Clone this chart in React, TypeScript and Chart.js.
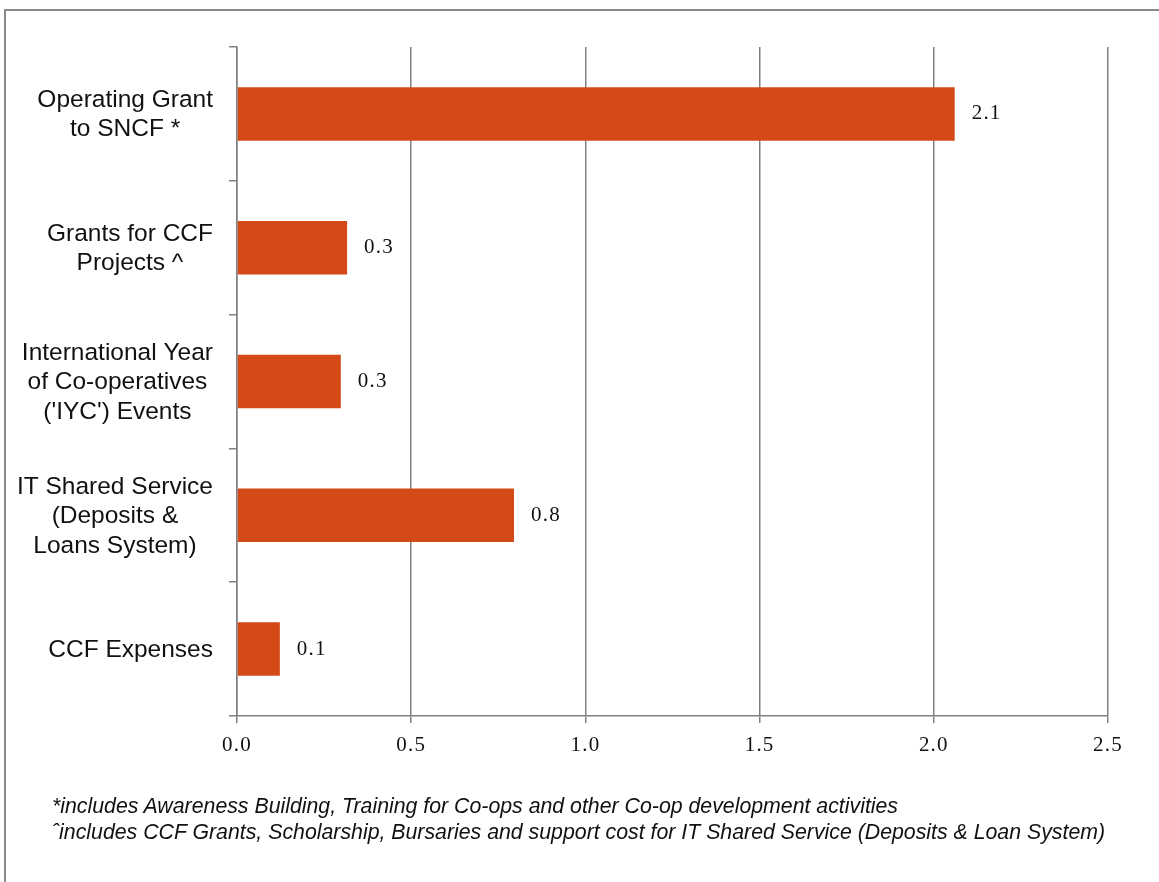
import React, { useEffect, useRef } from "react";
import { Chart, registerables } from "chart.js";

Chart.register(...registerables);

const categories: string[][] = [
  ["Operating Grant", "to SNCF *"],
  ["Grants for CCF", "Projects ^"],
  ["International Year", "of Co-operatives", "('IYC') Events"],
  ["IT Shared Service", "(Deposits &", "Loans System)"],
  ["CCF Expenses"],
];
const values: number[] = [2.06, 0.316, 0.298, 0.795, 0.123];
const xTicks: number[] = [0, 0.5, 1.0, 1.5, 2.0, 2.5];
const footnotes: string[] = [
  "*includes Awareness Building, Training for Co-ops and other Co-op development activities",
  "\u02c6includes CCF Grants, Scholarship, Bursaries and support cost for IT Shared Service (Deposits & Loan System)",
];

const BAR = "#D34A18";
const GRID = "#808080";
const SERIF = "'Liberation Serif', 'DejaVu Serif', serif";
const SANS = "'Liberation Sans', Arial, sans-serif";

const spacing = {
  id: "spacing",
  beforeDraw(chart: any) {
    (chart.ctx as any).letterSpacing = "1.2px";
  },
};

const valueLabels = {
  id: "valueLabels",
  afterDatasetsDraw(chart: any) {
    const ctx = chart.ctx;
    const meta = chart.getDatasetMeta(0);
    ctx.save();
    (ctx as any).letterSpacing = "1.2px";
    ctx.font = `21px ${SERIF}`;
    ctx.fillStyle = "#111";
    ctx.textAlign = "left";
    ctx.textBaseline = "middle";
    meta.data.forEach((el: any, i: number) => {
      ctx.fillText(values[i].toFixed(1), el.x + 17, el.y);
    });
    ctx.restore();
  },
};

const categoryLabels = {
  id: "categoryLabels",
  afterDraw(chart: any) {
    const ctx = chart.ctx;
    const y = chart.scales.y;
    const right = chart.chartArea.left - 24;
    const lh = 29.5;
    ctx.save();
    (ctx as any).letterSpacing = "0px";
    ctx.font = `24.5px ${SANS}`;
    ctx.fillStyle = "#111";
    ctx.textAlign = "center";
    ctx.textBaseline = "middle";
    categories.forEach((lines, i) => {
      const widest = Math.max(...lines.map((l) => ctx.measureText(l).width));
      const cx = right - widest / 2;
      const cy = y.getPixelForTick(i) + 1;
      lines.forEach((l, j) => {
        ctx.fillText(l, cx, cy + (j - (lines.length - 1) / 2) * lh);
      });
    });
    ctx.restore();
  },
};

export default function App() {
  const ref = useRef<HTMLCanvasElement>(null);
  useEffect(() => {
    if (!ref.current) return;
    const chart = new Chart(ref.current, {
      type: "bar",
      data: {
        labels: categories.map((c) => c.join(" ")),
        datasets: [
          {
            data: values,
            backgroundColor: BAR,
            borderWidth: 0,
            barPercentage: 0.4,
            categoryPercentage: 1,
          },
        ],
      },
      options: {
        indexAxis: "y",
        animation: false,
        responsive: false,
        layout: { padding: { left: 0, right: 51, top: 39, bottom: 52 } },
        plugins: { legend: { display: false }, tooltip: { enabled: false } },
        scales: {
          x: {
            min: 0,
            max: 2.5,
            afterBuildTicks: (s: any) => {
              s.ticks = xTicks.map((v) => ({ value: v }));
            },
            afterFit: (s: any) => {
              s.height = 40;
            },
            ticks: {
              font: { family: SERIF, size: 21 },
              color: "#111",
              padding: 10,
              maxRotation: 0,
              callback: (v: any) => Number(v).toFixed(1),
            },
            grid: { color: GRID, lineWidth: 1.5, tickLength: 7, drawTicks: true },
            border: { color: GRID, width: 1.5 },
          },
          y: {
            afterFit: (s: any) => {
              s.width = 229;
            },
            ticks: { display: false },
            grid: {
              offset: true,
              drawOnChartArea: false,
              drawTicks: true,
              tickLength: 8,
              color: GRID,
              lineWidth: 1.5,
            },
            border: { color: GRID, width: 1.5 },
          },
        },
      },
      plugins: [spacing, valueLabels, categoryLabels],
    });
    return () => chart.destroy();
  }, []);

  return (
    <div style={{ position: "relative", width: 1151, height: 850 }}>
      <div
        style={{
          position: "fixed",
          left: 4,
          top: 9,
          width: 1155,
          height: 873,
          boxSizing: "border-box",
          borderTop: "2px solid #8a8a8a",
          borderLeft: "2px solid #8a8a8a",
          pointerEvents: "none",
        }}
      />
      <canvas
        ref={ref}
        width={1151}
        height={800}
        style={{ position: "absolute", left: 0, top: 0, width: 1151, height: 800 }}
      />
      <div
        style={{
          position: "absolute",
          left: 44,
          top: 785,
          fontFamily: SANS,
          fontStyle: "italic",
          fontSize: 21.3,
          lineHeight: "26px",
          color: "#111",
          whiteSpace: "nowrap",
        }}
      >
        {footnotes.map((f, i) => (
          <div key={i}>{f}</div>
        ))}
      </div>
    </div>
  );
}
